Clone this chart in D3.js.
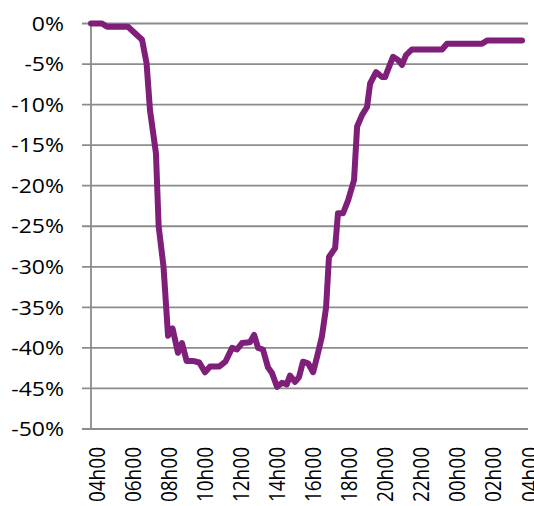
<!DOCTYPE html>
<html>
<head>
<meta charset="utf-8">
<script src="https://cdn.jsdelivr.net/npm/d3@7"></script>
<style>
  body { margin: 0; background: #fff; }
  text { font-family: "Open Sans", sans-serif; fill: #000; }
</style>
</head>
<body>
<div class="chart"></div>
<script>
// hours after 04h00 and change in percent
var hours = [0.00, 0.61, 0.89, 2.05, 2.83, 3.08, 3.27, 3.60, 3.75, 4.02, 4.27, 4.52, 4.82, 5.04, 5.30,
    5.65, 6.00, 6.32, 6.60, 7.10, 7.45, 7.82, 8.09, 8.37, 8.81, 9.04, 9.26, 9.53, 9.81, 10.03,
    10.31, 10.59, 10.85, 11.03, 11.31, 11.53, 11.75, 12.03, 12.31, 12.53, 12.80, 13.03, 13.19, 13.53,
    13.69, 13.97, 14.25, 14.58, 14.75, 15.02, 15.30, 15.47, 15.80, 16.13, 16.30, 16.46, 16.74, 17.02,
    17.24, 17.46, 17.79, 19.46, 19.73, 21.67, 21.95, 23.89];
var change = [0.0, 0.0, -0.4, -0.4, -2.0, -4.9, -10.7, -16.0, -25.0, -30.0, -38.5, -37.6, -40.6, -39.4, -41.6,
    -41.6, -41.8, -43.0, -42.3, -42.3, -41.7, -40.0, -40.2, -39.4, -39.3, -38.4, -40.0, -40.2, -42.4, -43.1,
    -44.8, -44.3, -44.5, -43.4, -44.2, -43.6, -41.7, -41.9, -43.0, -41.1, -38.6, -35.0, -28.8, -27.7,
    -23.4, -23.4, -21.8, -19.3, -12.7, -11.3, -10.3, -7.4, -6.0, -6.6, -6.6, -5.7, -4.1, -4.5,
    -5.1, -3.9, -3.2, -3.2, -2.5, -2.5, -2.1, -2.1];
var yTicks = [0, -5, -10, -15, -20, -25, -30, -35, -40, -45, -50];
var xTickHours = [0, 2, 4, 6, 8, 10, 12, 14, 16, 18, 20, 22, 24];
var xTickLabels = ["04h00", "06h00", "08h00", "10h00", "12h00", "14h00", "16h00",
    "18h00", "20h00", "22h00", "00h00", "02h00", "04h00"];

var svgWidth = 534, svgHeight = 506;
var plot = { left: 91, right: 524, top: 23.5, bottom: 429 };

var svg = d3.select(".chart").append("svg")
    .attr("width", svgWidth)
    .attr("height", svgHeight);

var x = d3.scaleLinear().domain([0, 24]).range([plot.left, plot.right]);
var y = d3.scaleLinear().domain([0, -50]).range([plot.top, plot.bottom]);

// horizontal gridlines with the small tick stub on the left
svg.append("g").selectAll("line")
    .data(yTicks)
    .enter()
    .append("line")
    .attr("x1", plot.left - 9)
    .attr("x2", 528)
    .attr("y1", d => y(d))
    .attr("y2", d => y(d))
    .attr("stroke", "#8c8c8c")
    .attr("stroke-width", 1.8);

// vertical axis
svg.append("line")
    .attr("x1", plot.left).attr("x2", plot.left)
    .attr("y1", plot.top).attr("y2", plot.bottom)
    .attr("stroke", "#8c8c8c")
    .attr("stroke-width", 1.8);

// y labels
svg.append("g").selectAll("text")
    .data(yTicks)
    .enter()
    .append("text")
    .attr("transform", d => `translate(64, ${y(d)}) scale(1.15, 1)`)
    .attr("dy", "0.36em")
    .attr("text-anchor", "end")
    .style("font-size", "20px")
    .text(d => d + "%");

// x labels, rotated
svg.append("g").selectAll("text")
    .data(xTickHours)
    .enter()
    .append("text")
    .attr("transform", d => `translate(${x(d) + 13.5}, 447) scale(1.15, 1) rotate(-90)`)
    .attr("text-anchor", "end")
    .style("font-size", "19px")
    .text((d, i) => xTickLabels[i]);

var data = hours.map((h, i) => ({ h: h, v: change[i] }));

var line = d3.line()
    .x(d => x(d.h))
    .y(d => y(d.v));

svg.append("path")
    .datum(data)
    .attr("d", line)
    .attr("fill", "none")
    .attr("stroke", "#7f1f79")
    .attr("stroke-width", 6)
    .attr("stroke-linejoin", "round")
    .attr("stroke-linecap", "round");
</script>
</body>
</html>
